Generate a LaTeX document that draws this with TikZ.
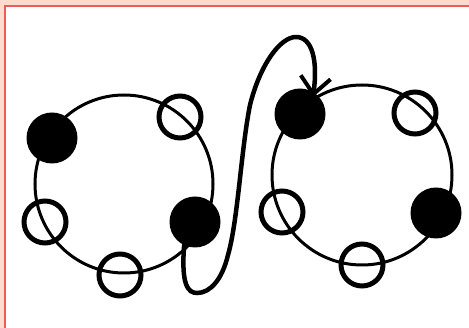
\documentclass[tikz,border=0pt]{standalone}
\usepackage{xcolor}
\usepackage{tikz}
\usetikzlibrary{arrows.meta}

\definecolor{framepink}{HTML}{FDDCCF}
\definecolor{framered}{HTML}{F05A5A}

\begin{document}
\begin{tikzpicture}[x=1pt, y=-1pt, line cap=round,
    ring/.style={line width=3pt},
    fullbead/.style={circle, fill=black, inner sep=0pt, minimum size=51pt},
    emptybead/.style={circle, draw=black, line width=5pt, inner sep=0pt, minimum size=42pt},
    jump/.style={line width=4.5pt, -{Straight Barb[length=17pt, width=30pt, line width=4pt]}}]

    \useasboundingbox (0,0) rectangle (469,328);

    % ==========================================
    % Frame
    % ==========================================
    \fill[framepink] (0,0) rectangle (469,328);
    \fill[white] (5,6) rectangle (469,328);
    \draw[framered, line width=2.5pt, line cap=butt] (5,328) -- (5,6) -- (469,6);

    % ==========================================
    % Left ring
    % ==========================================
    \draw[ring] (124,184) circle (89);
    \node[fullbead]  (lbead1) at (52,138) {};
    \node[emptybead] (lbead2) at (180,117) {};
    \node[emptybead] (lbead3) at (45,222) {};
    \node[fullbead]  (lbead4) at (195,222) {};
    \node[emptybead] (lbead5) at (120,275) {};

    % ==========================================
    % Right ring
    % ==========================================
    \draw[ring] (362,175) circle (90);
    \node[fullbead]  (rbead1) at (300,114) {};
    \node[emptybead] (rbead2) at (415,113) {};
    \node[emptybead] (rbead3) at (282,212) {};
    \node[fullbead]  (rbead4) at (436,213) {};
    \node[emptybead] (rbead5) at (362,265) {};

    % Jump from the left ring to the right ring
    \draw[jump, shorten >=-5pt] (lbead4.245)
        .. controls (181,285) and (188,293) .. (197,293)
        .. controls (210,293) and (222,280) .. (228,255)
        .. controls (238,220) and (241,150) .. (250,105)
        .. controls (260,65) and (280,37) .. (296,37)
        .. controls (312,37) and (318,60) .. (rbead1.58);

\end{tikzpicture}
\end{document}
